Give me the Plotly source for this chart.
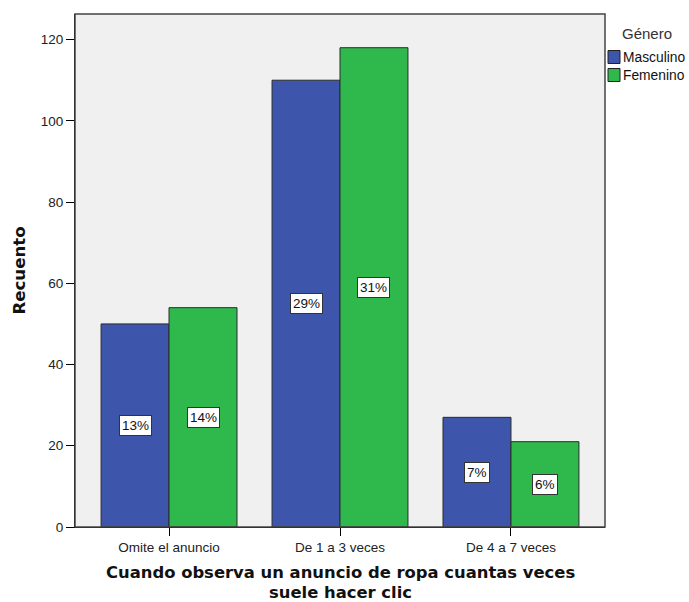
import plotly.graph_objects as go

categories = ["Omite el anuncio", "De 1 a 3 veces", "De 4 a 7 veces"]
masculino = [50, 110, 27]
femenino = [54, 118, 21]
pct_masc = ["13%", "29%", "7%"]
pct_fem = ["14%", "31%", "6%"]
series_names = ["Masculino", "Femenino"]
colors = ["#3D56AB", "#2FB84C"]
x_title_lines = ["Cuando observa un anuncio de ropa cuantas veces", "suele hacer clic"]
y_title = "Recuento"
legend_title = "Género"

W, H = 689, 602
ML, MR, MT, MB = 75, 84, 14, 75
pw, ph = W - ML - MR, H - MT - MB


def px(x):
    return (x - ML) / pw


def py(y):
    return (H - MB - y) / ph


fig = go.Figure()
for name, vals, col in zip(series_names, [masculino, femenino], colors):
    fig.add_trace(go.Bar(
        x=categories, y=vals, name=name,
        marker=dict(color=col, line=dict(color="#2B2B2B", width=1)),
        showlegend=False, hoverinfo="skip",
    ))

ann = []
off = 0.1988
for i in range(len(categories)):
    for vals, labs, dx in [(masculino, pct_masc, -off), (femenino, pct_fem, off)]:
        ann.append(dict(
            x=i + dx, y=vals[i] / 2, xref="x", yref="y", text=labs[i],
            showarrow=False, bgcolor="white", bordercolor="#333333",
            borderwidth=1, borderpad=2,
            font=dict(family="Liberation Sans, Arial", size=13.5, color="#111111"),
        ))

# x-axis title (two lines, centred under plot)
for line, yc in zip(x_title_lines, [573, 592.8]):
    ann.append(dict(
        x=0.5, y=py(yc), xref="paper", yref="paper",
        text="<b>" + line + "</b>",
        showarrow=False, xanchor="center", yanchor="middle",
        font=dict(family="DejaVu Sans, Verdana", size=16.4, color="#111111"),
    ))

# y-axis title
ann.append(dict(
    x=px(19), y=0.5, xref="paper", yref="paper", text="<b>" + y_title + "</b>",
    textangle=-90, showarrow=False, xanchor="center", yanchor="middle",
    font=dict(family="DejaVu Sans, Verdana", size=16.6, color="#111111"),
))

# legend (drawn manually)
ann.append(dict(x=px(620), y=py(33), xref="paper", yref="paper", text=legend_title,
                showarrow=False, xanchor="left", yanchor="middle",
                font=dict(family="Liberation Sans, Arial", size=15, color="#333333")))

shapes = [dict(type="rect", xref="paper", yref="paper", x0=0, x1=1, y0=0, y1=1,
               line=dict(color="#444444", width=1.5), fillcolor="rgba(0,0,0,0)")]
for yc, name, col in [(57, series_names[0], colors[0]), (75, series_names[1], colors[1])]:
    shapes.append(dict(type="rect", xref="paper", yref="paper",
                       x0=px(608), x1=px(620), y0=py(yc - 6.5), y1=py(yc + 6.5),
                       fillcolor=col, line=dict(color="#222222", width=1)))
    ann.append(dict(x=px(621), y=py(yc), xref="paper", yref="paper", text=name,
                    showarrow=False, xanchor="left", yanchor="middle",
                    font=dict(family="Liberation Sans, Arial", size=13.8, color="#111111")))

fig.update_layout(
    width=W, height=H,
    margin=dict(l=ML, r=MR, t=MT, b=MB),
    paper_bgcolor="white", plot_bgcolor="#F0F0F0",
    barmode="group", bargap=0.205, bargroupgap=0,
    xaxis=dict(
        type="category", range=[-0.55, 2.55],
        showline=True, linecolor="black", linewidth=1,
        ticks="outside", ticklen=8, tickcolor="black",
        tickfont=dict(family="Liberation Sans, Arial", size=13.5, color="#222222"),
        showgrid=False, zeroline=False, fixedrange=True,
    ),
    yaxis=dict(
        range=[0, 126.3], tickvals=[0, 20, 40, 60, 80, 100, 120],
        showline=True, linecolor="black", linewidth=1,
        ticks="outside", ticklen=8, tickcolor="black",
        tickfont=dict(family="Liberation Sans, Arial", size=13.5, color="#222222"),
        showgrid=False, zeroline=False, fixedrange=True,
    ),
    font=dict(family="Liberation Sans, Arial"),
    shapes=shapes,
    annotations=ann,
)

fig.write_html("out.html", config={"displayModeBar": False},
               post_script="document.body.style.margin='0';document.body.style.overflow='hidden';")
